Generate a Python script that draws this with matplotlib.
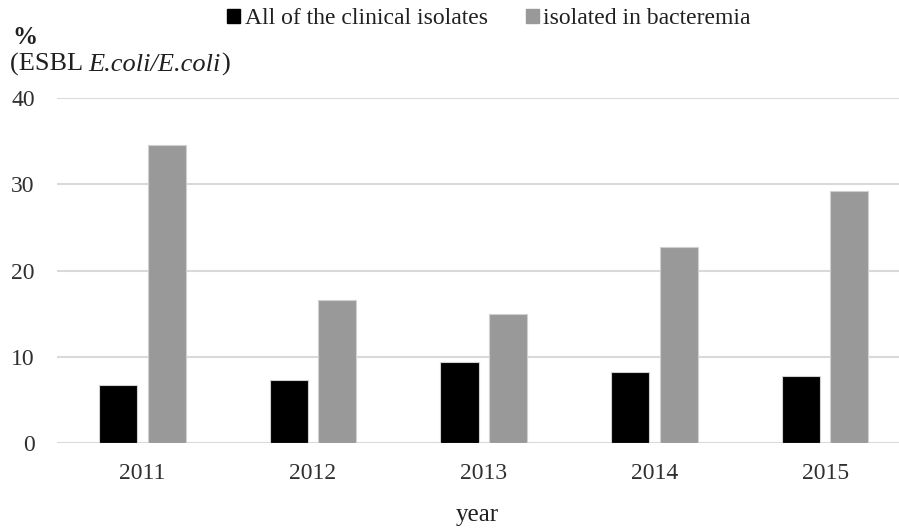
import matplotlib.pyplot as plt
import numpy as np
from matplotlib.patches import Rectangle
from matplotlib.text import Annotation

plt.rcParams['font.family'] = 'Liberation Serif'

years = ['2011', '2012', '2013', '2014', '2015']
all_isolates = [6.7, 7.3, 9.4, 8.3, 7.8]
bacteremia = [34.6, 16.6, 15.0, 22.7, 29.2]

x = np.arange(len(years))
width = 0.223
offset = 0.142
txt = '#202020'

fig = plt.figure(figsize=(8.99, 5.28), dpi=100)
# plot area runs a little past the right edge of the figure
ax = fig.add_axes([57 / 899, 84.7 / 528, 853.5 / 899, 345.2 / 528])

ax.bar(x - offset, all_isolates, width, color='black', edgecolor='#d0d0d0', linewidth=0.8, zorder=3)
ax.bar(x + offset, bacteremia, width, color='#999999', edgecolor='#d0d0d0', linewidth=0.8, zorder=3)

ax.set_xlim(-0.5, 4.5)
ax.set_ylim(0, 40)
ax.set_yticks([0, 10, 20, 30, 40])
ax.set_xticks(x)
ax.set_xticklabels(years)
ax.yaxis.grid(True, color='#d9d9d9', linewidth=1.5, zorder=0)
ax.set_axisbelow(True)
for s in ax.spines.values():
    s.set_visible(False)
ax.tick_params(axis='both', length=0, labelsize=17, colors='#303030')
ax.tick_params(axis='y', pad=16)
ax.tick_params(axis='x', pad=14)

# y-axis title, two lines, with the species names in italics
fig.text(12 / 899, 1 - 37 / 528, '%', fontsize=18, color=txt, va='center', fontweight='bold')
t1 = fig.text(10 / 899, 1 - 76 / 528, '(ESBL ', fontsize=19, color=txt, va='bottom')
t2 = fig.add_artist(Annotation('E.coli/E.coli', xy=(1, 0), xycoords=t1, fontsize=19,
                               color=txt, style='italic', va='bottom'))
fig.add_artist(Annotation(')', xy=(1, 0), xycoords=t2, fontsize=19, color=txt, va='bottom'))

fig.text(477 / 899, 1 - 515 / 528, 'year', fontsize=18, color=txt, ha='center', va='center')

handles = [Rectangle((0, 0), 1, 1, color='black'), Rectangle((0, 0), 1, 1, color='#999999')]
fig.legend(handles, ['All of the clinical isolates', 'isolated in bacteremia'],
           loc='center', bbox_to_anchor=(489 / 899, 1 - 19 / 528), ncol=2, frameon=False,
           fontsize=17, handlelength=0.55, handleheight=0.55, handletextpad=0.2,
           columnspacing=1.6, labelcolor=txt)

plt.savefig('out.png', dpi=100)
